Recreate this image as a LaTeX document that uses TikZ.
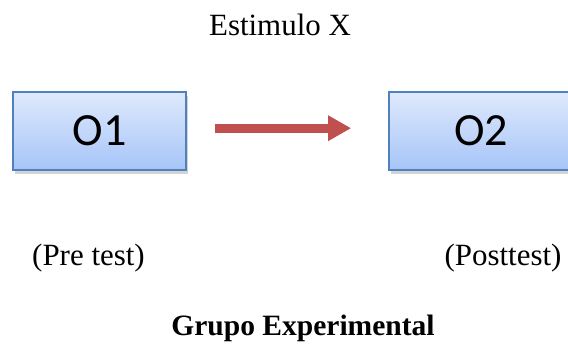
\documentclass[tikz,border=0pt]{standalone}
\usepackage{fontspec}
\setmainfont{Liberation Serif}
\newfontfamily\boxfont{Carlito}
\usetikzlibrary{arrows.meta, positioning, shadows}
\definecolor{cblue}{HTML}{4F81BD}
\definecolor{ctop}{HTML}{DFE9FC}
\definecolor{cbottom}{HTML}{A6C5F8}
\definecolor{cred}{HTML}{C0504D}
\tikzset{
  box/.style={draw=cblue, line width=1.2pt, top color=ctop, bottom color=cbottom, minimum height=1.95cm, font=\boxfont\fontsize{32.8}{36}\selectfont, drop shadow={shadow xshift=1.5pt, shadow yshift=-2.5pt, opacity=0.35}},
  arrow/.style={-{Triangle[length=0.575cm, width=0.6cm]}, draw=cred, line width=0.225cm},
  note/.style={anchor=base, font=\fontsize{22}{26}\selectfont},
  title/.style={anchor=base, font=\bfseries\fontsize{21}{25}\selectfont},
}

\begin{document}
\begin{tikzpicture}
  \useasboundingbox (0,0) rectangle (14.2,-8.675);
  \node[note] (stim) at (7.0,-0.875) {Estimulo X};
  \node[box, minimum width=4.325cm] (o1) at (2.4875,-3.275) {O1};
  \node[box, minimum width=4.6cm] (o2) at (12.025,-3.275) {O2};
  \draw[arrow, shorten <=0.7cm, shorten >=0.925cm] ([yshift=2pt]o1.east) -- ([yshift=2pt]o2.west);
  \node[note] (pre) at (2.2125,-6.625) {(Pre test)};
  \node[note] (post) at (12.575,-6.625) {(Posttest)};
  \node[title] (grp) at (7.575,-8.375) {Grupo Experimental};
\end{tikzpicture}
\end{document}
